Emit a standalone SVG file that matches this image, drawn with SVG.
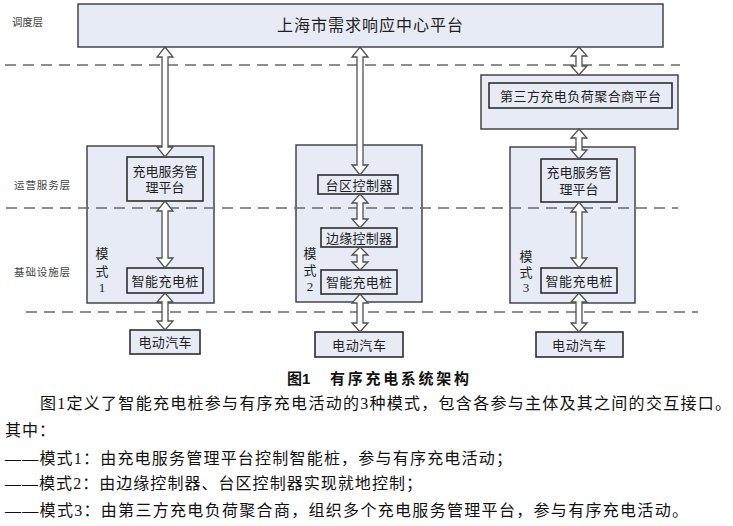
<svg xmlns="http://www.w3.org/2000/svg" width="733" height="526" viewBox="0 0 733 526">
<style>
.bg{fill:#ffffff}
.box{fill:#e6ebf5;stroke:#3a3a3a;stroke-width:1.4}
.inner{fill:#e6ebf5;stroke:#2e2e2e;stroke-width:1.6}
.dash{stroke:#6a6a6a;stroke-width:1.3;stroke-dasharray:11 7;fill:none}
.arr{fill:#ffffff;stroke:#505050;stroke-width:1.3;stroke-linejoin:miter}
.t{font-family:"Liberation Serif","Noto Sans CJK SC",serif;fill:#1e1e1e;text-anchor:middle}
.s13{font-size:13px}
.layer{font-family:"Noto Sans CJK SC",sans-serif;font-size:10.5px;fill:#444}
.body{font-family:"Liberation Serif","Noto Sans CJK SC",serif;font-size:16px;fill:#111}
.cap{font-family:"Liberation Sans","Noto Sans CJK SC",sans-serif;font-size:15px;font-weight:bold;fill:#111}
</style>
<rect class="bg" x="0" y="0" width="733" height="526"/>

<g id="layers">
<text class="layer" x="12" y="26" textLength="31" lengthAdjust="spacing">调度层</text>
<text class="layer" x="14" y="189" textLength="56" lengthAdjust="spacing">运营服务层</text>
<text class="layer" x="14" y="276" textLength="56" lengthAdjust="spacing">基础设施层</text>
</g>

<g id="dr-center">
<rect class="box" x="78" y="4" width="585" height="43"/>
<text class="t" x="370" y="31" font-size="16" textLength="186" lengthAdjust="spacing">上海市需求响应中心平台</text>
</g>

<g id="mode1">
<rect class="box" x="87" y="146" width="127" height="157"/>
<text class="t s13" x="102" y="258">模</text>
<text class="t s13" x="102" y="276">式</text>
<text class="t s13" x="102" y="292">1</text>
</g>
<g id="mode2">
<rect class="box" x="296" y="145" width="126" height="157"/>
<text class="t s13" x="310" y="258">模</text>
<text class="t s13" x="310" y="275">式</text>
<text class="t s13" x="310" y="291">2</text>
</g>
<g id="mode3">
<rect class="box" x="510" y="147" width="125" height="156"/>
<text class="t s13" x="526" y="261">模</text>
<text class="t s13" x="526" y="277">式</text>
<text class="t s13" x="526" y="292">3</text>
</g>
<g id="aggregator">
<rect class="box" x="481" y="75" width="197" height="54"/>
<rect class="inner" x="489" y="83" width="183" height="25"/>
<text class="t s13" x="580.5" y="100.5" textLength="161" lengthAdjust="spacing">第三方充电负荷聚合商平台</text>
</g>

<g id="dashes">
<line class="dash" x1="5" y1="65" x2="680" y2="65"/>
<line class="dash" x1="6" y1="208" x2="678" y2="208"/>
<line class="dash" x1="26" y1="312" x2="698" y2="312"/>
</g>

<g id="m1-platform">
<rect class="inner" x="127" y="157" width="76" height="44"/>
<text class="t s13" x="165" y="176" textLength="65" lengthAdjust="spacing">充电服务管</text>
<text class="t s13" x="165" y="192" textLength="39" lengthAdjust="spacing">理平台</text>
</g>
<g id="m1-pile">
<rect class="inner" x="127" y="268" width="76" height="25"/>
<text class="t s13" x="165" y="286" textLength="67" lengthAdjust="spacing">智能充电桩</text>
</g>
<g id="m1-ev">
<rect class="inner" x="130" y="330" width="70" height="24"/>
<text class="t s13" x="165" y="347" textLength="53" lengthAdjust="spacing">电动汽车</text>
</g>

<g id="m2-area">
<rect class="inner" x="318" y="175" width="80" height="19"/>
<text class="t s13" x="359" y="189.5" textLength="67" lengthAdjust="spacing">台区控制器</text>
</g>
<g id="m2-edge">
<rect class="inner" x="321" y="228" width="76" height="19"/>
<text class="t s13" x="359" y="242.5" textLength="66" lengthAdjust="spacing">边缘控制器</text>
</g>
<g id="m2-pile">
<rect class="inner" x="321" y="270" width="76" height="24"/>
<text class="t s13" x="359" y="287" textLength="66" lengthAdjust="spacing">智能充电桩</text>
</g>
<g id="m2-ev">
<rect class="inner" x="315" y="332" width="88" height="25"/>
<text class="t s13" x="359" y="349.5" textLength="54" lengthAdjust="spacing">电动汽车</text>
</g>

<g id="m3-platform">
<rect class="inner" x="541" y="159" width="76" height="43"/>
<text class="t s13" x="579" y="177" textLength="65" lengthAdjust="spacing">充电服务管</text>
<text class="t s13" x="579" y="194" textLength="39" lengthAdjust="spacing">理平台</text>
</g>
<g id="m3-pile">
<rect class="inner" x="541" y="268" width="76" height="25"/>
<text class="t s13" x="579" y="286" textLength="67" lengthAdjust="spacing">智能充电桩</text>
</g>
<g id="m3-ev">
<rect class="inner" x="536" y="332" width="87" height="25"/>
<text class="t s13" x="579" y="349.5" textLength="54" lengthAdjust="spacing">电动汽车</text>
</g>

<g id="connectors">
<path class="arr" d="M165,47 L173,57 L168,57 L168,147 L173,147 L165,157 L157,147 L162,147 L162,57 L157,57 Z"/>
<path class="arr" d="M165,201 L173,211 L168,211 L168,258 L173,258 L165,268 L157,258 L162,258 L162,211 L157,211 Z"/>
<path class="arr" d="M165,293 L173,302 L168,302 L168,321 L173,321 L165,330 L157,321 L162,321 L162,302 L157,302 Z"/>
<path class="arr" d="M360,47 L368,57 L363,57 L363,165 L368,165 L360,175 L352,165 L357,165 L357,57 L352,57 Z"/>
<path class="arr" d="M360,194 L368,203 L363,203 L363,219 L368,219 L360,228 L352,219 L357,219 L357,203 L352,203 Z"/>
<path class="arr" d="M360,247 L368,255 L363,255 L363,262 L368,262 L360,270 L352,262 L357,262 L357,255 L352,255 Z"/>
<path class="arr" d="M360,294 L368,303 L363,303 L363,323 L368,323 L360,332 L352,323 L357,323 L357,303 L352,303 Z"/>
<path class="arr" d="M579,47 L587,56 L582,56 L582,66 L587,66 L579,75 L571,66 L576,66 L576,56 L571,56 Z"/>
<path class="arr" d="M579,129 L587,138 L582,138 L582,150 L587,150 L579,159 L571,150 L576,150 L576,138 L571,138 Z"/>
<path class="arr" d="M579,202 L587,212 L582,212 L582,258 L587,258 L579,268 L571,258 L576,258 L576,212 L571,212 Z"/>
<path class="arr" d="M579,293 L587,302 L582,302 L582,323 L587,323 L579,332 L571,323 L576,323 L576,302 L571,302 Z"/>
</g>

<g id="caption">
<text class="cap" x="287" y="384">图1</text>
<text class="cap" x="330" y="384" textLength="139" lengthAdjust="spacing">有序充电系统架构</text>
</g>

<g id="body">
<text class="body" x="40" y="409" textLength="691" lengthAdjust="spacing">图1定义了智能充电桩参与有序充电活动的3种模式，包含各参与主体及其之间的交互接口。</text>
<text class="body" x="5" y="436" textLength="50" lengthAdjust="spacing">其中：</text>
<text class="body" x="5" y="464" textLength="507" lengthAdjust="spacing">——模式1：由充电服务管理平台控制智能桩，参与有序充电活动；</text>
<text class="body" x="5" y="489" textLength="417" lengthAdjust="spacing">——模式2：由边缘控制器、台区控制器实现就地控制；</text>
<text class="body" x="5" y="516" textLength="683" lengthAdjust="spacing">——模式3：由第三方充电负荷聚合商，组织多个充电服务管理平台，参与有序充电活动。</text>
</g>
</svg>
